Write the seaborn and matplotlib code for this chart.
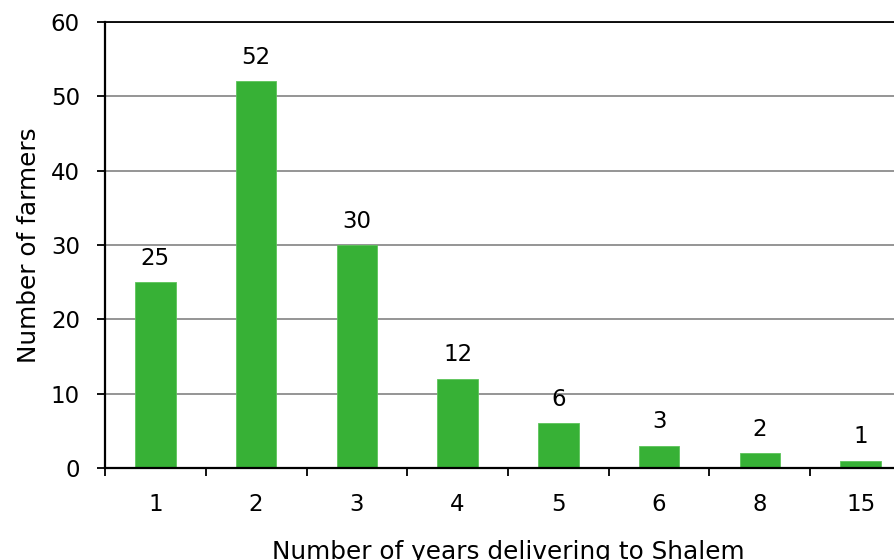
import matplotlib
matplotlib.use("Agg")
import matplotlib.pyplot as plt
import seaborn as sns
import pandas as pd
from matplotlib.ticker import FixedLocator

years = ["1", "2", "3", "4", "5", "6", "8", "15"]
farmers = [25, 52, 30, 12, 6, 3, 2, 1]

sns.set_theme(style="white")
plt.rcParams["font.family"] = ["DejaVu Sans"]
plt.rcParams["text.color"] = "black"
plt.rcParams["axes.labelcolor"] = "black"
plt.rcParams["xtick.color"] = "black"
plt.rcParams["ytick.color"] = "black"

FS_NUM = 16.5
FS_LABEL = 17.8

df = pd.DataFrame({"years": years, "farmers": farmers})

fig = plt.figure(figsize=(8.94, 5.6), dpi=100)
ax = fig.add_axes([105 / 894, 92 / 560, 806 / 894, 446 / 560])

sns.barplot(data=df, x="years", y="farmers", color="#37b136", width=0.4,
            saturation=1, edgecolor="#5cc45a", linewidth=0.6, ax=ax, zorder=3)

ax.set_xlim(-0.5, len(years) - 0.5)
ax.set_ylim(0, 60)
ax.set_yticks(range(0, 61, 10))
ax.yaxis.grid(True, color="#8c8c8c", linewidth=1.3, zorder=0)
ax.set_axisbelow(True)

ax.spines["right"].set_visible(False)
ax.spines["top"].set_visible(False)
ax.axhline(60, color="black", linewidth=1.3, zorder=4, clip_on=False)
for sp in ["left", "bottom"]:
    ax.spines[sp].set_color("black")
    ax.spines[sp].set_linewidth(1.6)
ax.spines["bottom"].set_zorder(5)

# category boundaries carry the tick marks, labels sit between them
ax.xaxis.set_minor_locator(FixedLocator([i - 0.5 for i in range(len(years) + 1)]))
ax.tick_params(axis="x", which="minor", bottom=True, length=6, width=1.3, color="black")
ax.tick_params(axis="x", which="major", bottom=True, length=0, pad=18, labelsize=FS_NUM)
ax.tick_params(axis="y", left=True, length=6, width=1.3, color="black", pad=12, labelsize=FS_NUM)

for i, v in enumerate(farmers):
    ax.annotate(str(v), (i, v), xytext=(0, 9), textcoords="offset points",
                ha="center", va="bottom", fontsize=FS_NUM, color="black")

ax.set_xlabel("Number of years delivering to Shalem", fontsize=FS_LABEL, labelpad=17)
ax.set_ylabel("Number of farmers", fontsize=FS_LABEL, labelpad=7)

fig.savefig("out.png", dpi=100)
